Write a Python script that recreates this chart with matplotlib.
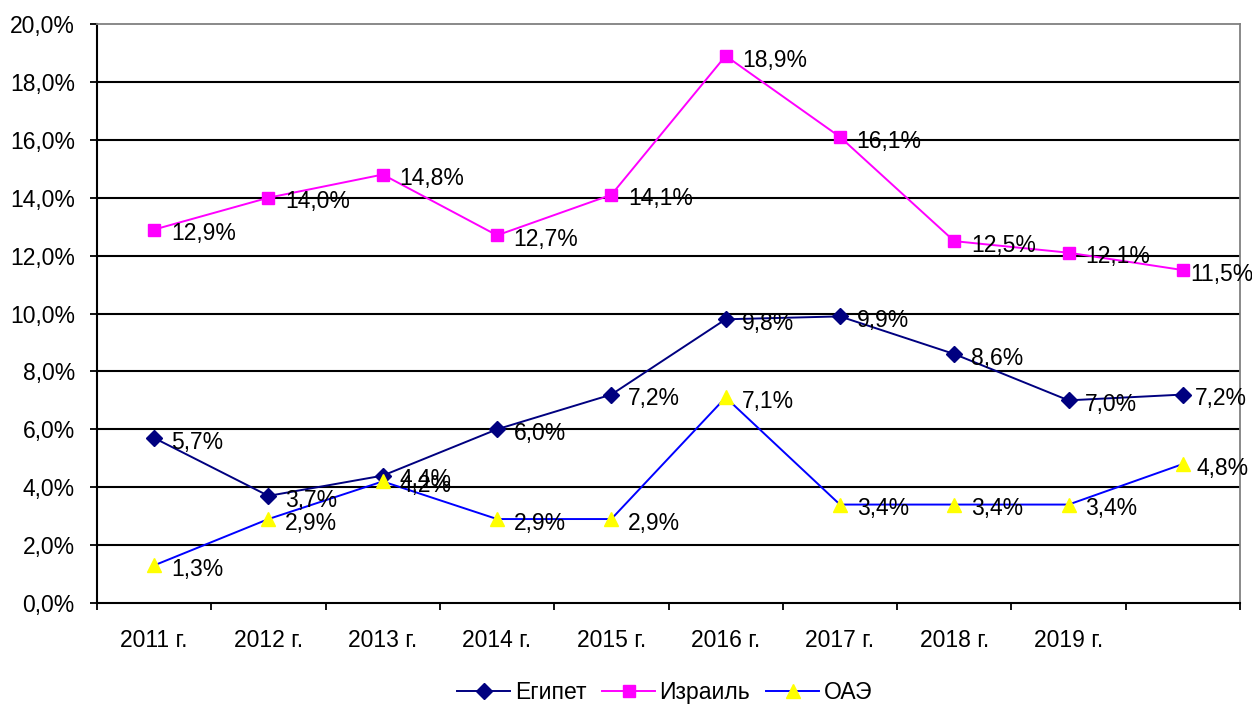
import numpy as np
import matplotlib.pyplot as plt
from matplotlib.ticker import FixedLocator, FuncFormatter

plt.rcParams['font.family'] = ['Liberation Sans', 'DejaVu Sans']

# данные
years = ["2011 г.", "2012 г.", "2013 г.", "2014 г.", "2015 г.",
         "2016 г.", "2017 г.", "2018 г.", "2019 г.", ""]
egypt = [5.7, 3.7, 4.4, 6.0, 7.2, 9.8, 9.9, 8.6, 7.0, 7.2]
israel = [12.9, 14.0, 14.8, 12.7, 14.1, 18.9, 16.1, 12.5, 12.1, 11.5]
uae = [1.3, 2.9, 4.2, 2.9, 2.9, 7.1, 3.4, 3.4, 3.4, 4.8]

fs = 16.5
fig = plt.figure(figsize=(12.52, 7.09), dpi=100)
ax = fig.add_axes([97/1252, 1-603/709, (1240-97)/1252, (603-24)/709])

x = np.arange(len(years))
series = [
    ("Египет", egypt, "#000080", "D", 8, "#000080"),
    ("Израиль", israel, "#FF00FF", "s", 8, "#FF00FF"),
    ("ОАЭ", uae, "#0000FF", "^", 10, "#FFFF00"),
]
# у последней точки Excel прижимает подпись к краю
last_dx = {"Египет": 8.5, "Израиль": 5, "ОАЭ": 9.5}
for name, vals, col, mk, ms, mcol in series:
    ax.plot(x, vals, color=col, lw=1.4, marker=mk, ms=ms,
            mfc=mcol, mec=mcol, label=name, zorder=3)
    for xi, v in zip(x, vals):
        dx = last_dx[name] if xi == len(x) - 1 else 12
        ax.annotate(f"{v:.1f}%".replace(".", ","), (xi, v),
                    xytext=(dx, -3), textcoords="offset points",
                    ha="left", va="center", fontsize=fs, zorder=4,
                    annotation_clip=False)

ax.set_xlim(-0.5, len(years) - 0.5)
ax.set_ylim(0, 20)

# y-ось
ax.set_yticks(np.arange(0, 21, 2))
ax.yaxis.set_major_formatter(FuncFormatter(lambda v, p: f"{v:.1f}%".replace(".", ",")))
ax.tick_params(axis="y", direction="out", length=5, width=1.3, labelsize=fs, pad=11)
for yv in range(2, 20, 2):
    ax.axhline(yv, color="black", lw=1.5, zorder=1)

# x-ось
ax.set_xticks(x)
ax.set_xticklabels(years)
ax.tick_params(axis="x", which="major", length=0, labelsize=fs, pad=19)
ax.xaxis.set_minor_locator(FixedLocator(np.arange(-0.5, len(years), 1)))
ax.tick_params(axis="x", which="minor", direction="out", length=5, width=1.3)

ax.spines["left"].set_linewidth(1.5)
ax.spines["bottom"].set_linewidth(1.5)
ax.spines["top"].set_color("#808080")
ax.spines["right"].set_color("#808080")
ax.spines["top"].set_linewidth(1.3)
ax.spines["right"].set_linewidth(1.3)

fig.legend(loc="center", bbox_to_anchor=(0.531, 0.023), ncol=3, frameon=False,
           fontsize=fs, handlelength=2.3, handletextpad=0.2, columnspacing=0.7)

fig.savefig("out.png", dpi=100)
